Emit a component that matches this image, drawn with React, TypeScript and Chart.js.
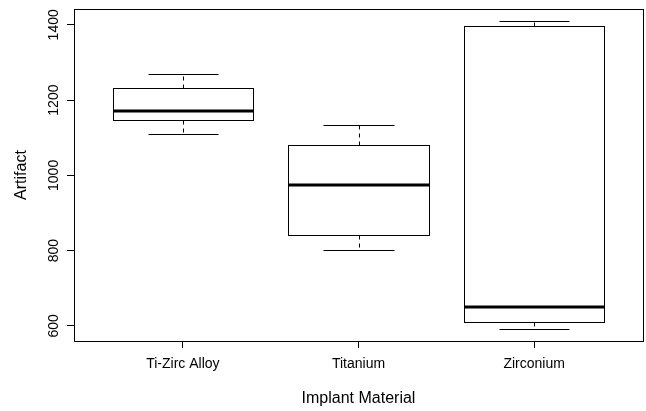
import React, { useEffect, useRef } from "react";
import { Chart, registerables } from "chart.js";

Chart.register(...registerables);

const categories = ["Ti-Zirc Alloy", "Titanium", "Zirconium"];
const mins = [1110, 801, 593];
const q1s = [1147, 841, 610];
const medians = [1172, 974, 651];
const q3s = [1232, 1080, 1397];
const maxs = [1268, 1133, 1409];
const yTicks = [600, 800, 1000, 1200, 1400];
const xTicks = [1, 2, 3];

const FONT = "'Liberation Sans', Arial, Helvetica, sans-serif";

const snap = (v: number) => Math.round(v) + 0.5;

const boxPlugin = {
  id: "rbox",
  afterDatasetsDraw(chart: any) {
    const { ctx, scales, chartArea } = chart;
    const x = scales.x;
    const y = scales.y;
    ctx.save();
    ctx.beginPath();
    ctx.rect(chartArea.left, chartArea.top, chartArea.right - chartArea.left, chartArea.bottom - chartArea.top);
    ctx.clip();
    ctx.strokeStyle = "#000";
    ctx.lineCap = "butt";
    categories.forEach((_, i) => {
      const c = xTicks[i];
      const xl = snap(x.getPixelForValue(c - 0.4));
      const xr = snap(x.getPixelForValue(c + 0.4));
      const xc = snap(x.getPixelForValue(c));
      const cl = snap(x.getPixelForValue(c - 0.2));
      const cr = snap(x.getPixelForValue(c + 0.2));
      const yMin = snap(y.getPixelForValue(mins[i]));
      const yQ1 = snap(y.getPixelForValue(q1s[i]));
      const yMed = y.getPixelForValue(medians[i]);
      const yQ3 = snap(y.getPixelForValue(q3s[i]));
      const yMax = snap(y.getPixelForValue(maxs[i]));

      // whiskers (dashed)
      ctx.lineWidth = 1;
      ctx.setLineDash([4, 4]);
      ctx.beginPath();
      ctx.moveTo(xc, yQ3);
      ctx.lineTo(xc, yMax);
      ctx.moveTo(xc, yQ1);
      ctx.lineTo(xc, yMin);
      ctx.stroke();
      ctx.setLineDash([]);

      // caps
      ctx.beginPath();
      ctx.moveTo(cl, yMax);
      ctx.lineTo(cr, yMax);
      ctx.moveTo(cl, yMin);
      ctx.lineTo(cr, yMin);
      ctx.stroke();

      // box
      ctx.fillStyle = "#fff";
      ctx.fillRect(xl, yQ3, xr - xl, yQ1 - yQ3);
      ctx.strokeRect(xl, yQ3, xr - xl, yQ1 - yQ3);

      // median
      ctx.lineWidth = 3;
      ctx.beginPath();
      ctx.moveTo(xl, Math.round(yMed));
      ctx.lineTo(xr, Math.round(yMed));
      ctx.stroke();
    });
    ctx.restore();
  },
  afterDraw(chart: any) {
    const { ctx, chartArea } = chart;
    ctx.save();
    ctx.strokeStyle = "#000";
    ctx.lineWidth = 1;
    ctx.strokeRect(
      snap(chartArea.left),
      snap(chartArea.top),
      Math.round(chartArea.right - chartArea.left),
      Math.round(chartArea.bottom - chartArea.top)
    );
    ctx.restore();
  },
};

export default function App() {
  const ref = useRef<HTMLCanvasElement | null>(null);

  useEffect(() => {
    if (!ref.current) return;
    const chart = new Chart(ref.current, {
      type: "scatter",
      data: {
        datasets: [
          {
            label: "median",
            data: medians.map((m, i) => ({ x: xTicks[i], y: m })),
            pointRadius: 0,
            showLine: false,
          },
        ],
      },
      options: {
        animation: false,
        responsive: false,
        devicePixelRatio: 1,
        layout: { padding: { top: 9, right: 3, left: 0, bottom: 0 } },
        plugins: {
          legend: { display: false },
          tooltip: { enabled: false },
        },
        scales: {
          x: {
            type: "linear",
            min: 0.38,
            max: 3.62,
            afterBuildTicks: (scale: any) => {
              scale.ticks = xTicks.map((v) => ({ value: v }));
            },
            afterFit: (scale: any) => {
              scale.height = 70;
            },
            ticks: {
              callback: (v: any) => {
                const idx = xTicks.indexOf(Number(v));
                return idx >= 0 ? categories[idx] : "";
              },
              font: { family: FONT, size: 14 },
              color: "#000",
              padding: 8,
              maxRotation: 0,
              autoSkip: false,
            },
            grid: {
              display: true,
              drawOnChartArea: false,
              drawTicks: true,
              tickLength: 7,
              color: "#000",
              lineWidth: 1,
            },
            border: { display: true, color: "#000", width: 1 },
            title: {
              display: true,
              text: "Implant Material",
              font: { family: FONT, size: 16 },
              color: "#000",
              padding: { top: 0, bottom: 3 },
            },
          },
          y: {
            type: "linear",
            min: 560,
            max: 1442,
            afterBuildTicks: (scale: any) => {
              scale.ticks = yTicks.map((v) => ({ value: v }));
            },
            afterFit: (scale: any) => {
              scale.width = 74;
            },
            ticks: {
              callback: (v: any) => String(v),
              minRotation: 90,
              maxRotation: 90,
              crossAlign: "center",
              font: { family: FONT, size: 14 },
              color: "#000",
              padding: -3,
              autoSkip: false,
            },
            grid: {
              display: true,
              drawOnChartArea: false,
              drawTicks: true,
              tickLength: 7,
              color: "#000",
              lineWidth: 1,
            },
            border: { display: true, color: "#000", width: 1 },
            title: {
              display: true,
              text: "Artifact",
              font: { family: FONT, size: 16 },
              color: "#000",
              padding: { top: 12, bottom: 0 },
            },
          },
        },
      },
      plugins: [boxPlugin],
    } as any);
    return () => chart.destroy();
  }, []);

  return (
    <div style={{ position: "absolute", left: 0, top: 0, width: 646, height: 411, background: "#fff" }}>
      <canvas ref={ref} width={646} height={411} style={{ display: "block" }} />
    </div>
  );
}
